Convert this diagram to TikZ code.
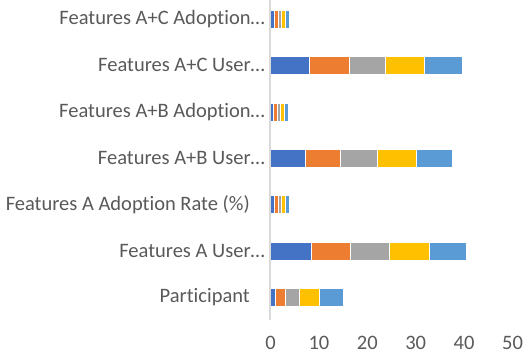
\documentclass[tikz,border=0pt]{standalone}
\usepackage{fontspec}
\setmainfont{Carlito}[RawFeature=-liga]
\definecolor{sA}{HTML}{4472C4}
\definecolor{sB}{HTML}{ED7D31}
\definecolor{sC}{HTML}{A5A5A5}
\definecolor{sD}{HTML}{FFC000}
\definecolor{sE}{HTML}{5B9BD5}
\definecolor{txt}{HTML}{595959}
\definecolor{axisgray}{HTML}{D9D9D9}
\begin{document}
\begin{tikzpicture}[x=1pt,y=-1pt,
  lbl/.style={anchor=east,inner sep=0pt,text=txt,font=\fontsize{20.5}{22}\selectfont},
  ticklbl/.style={anchor=center,inner sep=0pt,text=txt,font=\fontsize{20.5}{22}\selectfont},
  seg/.style={draw=white,line width=0.4pt}]
\useasboundingbox (0,0) rectangle (525,354);
\def\xo{270.5}
\def\u{4.84}
% bars
\foreach \yc/\ca/\cb/\cc/\cd/\ce in {
  19/0.7/1.5/2.2/3.0/3.8,
  65.3/7.9/16.3/23.7/31.7/39.6,
  111.7/0.6/1.3/2.0/2.8/3.6,
  158/7.1/14.3/22.1/30.2/37.6,
  204.3/0.7/1.5/2.2/3.1/3.9,
  250.7/8.4/16.4/24.5/32.8/40.5,
  297/1/3/6/10/15}{
  \fill[sA,seg] (\xo,\yc-9) rectangle (\xo+\ca*\u,\yc+9);
  \fill[sB,seg] (\xo+\ca*\u,\yc-9) rectangle (\xo+\cb*\u,\yc+9);
  \fill[sC,seg] (\xo+\cb*\u,\yc-9) rectangle (\xo+\cc*\u,\yc+9);
  \fill[sD,seg] (\xo+\cc*\u,\yc-9) rectangle (\xo+\cd*\u,\yc+9);
  \fill[sE,seg] (\xo+\cd*\u,\yc-9) rectangle (\xo+\ce*\u,\yc+9);
}
% axis
\draw[axisgray,line width=1.5pt] (270,0) -- (270,320);
% category labels
\node[lbl] (c7) at (265,19) {Features A+C Adoption…};
\node[lbl] (c6) at (265,65.3) {Features A+C User…};
\node[lbl] (c5) at (265,111.7) {Features A+B Adoption…};
\node[lbl] (c4) at (265,158) {Features A+B User…};
\node[lbl] (c3) at (250,204.3) {Features A Adoption Rate (\%)};
\node[lbl] (c2) at (265,250.7) {Features A User…};
\node[lbl] (c1) at (250,297) {Participant};
% tick labels
\foreach \v/\n in {0/t0,10/t1,20/t2,30/t3,40/t4,50/t5}{
  \node[ticklbl] (\n) at (\xo+\v*\u,342.5) {\v};
}
\end{tikzpicture}
\end{document}
